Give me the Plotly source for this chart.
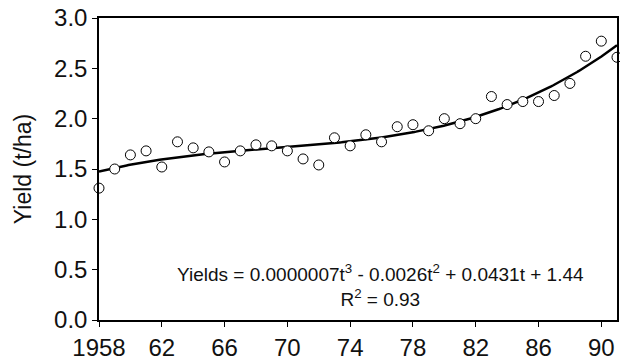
import numpy as np
import plotly.graph_objects as go

# Annual yields, 1958-1991 (t/ha)
years = list(range(1958, 1992))
yields = [1.31, 1.50, 1.64, 1.68, 1.52, 1.77, 1.71, 1.67, 1.57, 1.68,
          1.74, 1.73, 1.68, 1.60, 1.54, 1.81, 1.73, 1.84, 1.77, 1.92,
          1.94, 1.88, 2.00, 1.95, 2.00, 2.22, 2.14, 2.17, 2.17, 2.23,
          2.35, 2.62, 2.77, 2.61]

x_tick_vals = [1958, 1962, 1966, 1970, 1974, 1978, 1982, 1986, 1990]
x_tick_text = ["1958", "62", "66", "70", "74", "78", "82", "86", "90"]
y_tick_vals = [0.0, 0.5, 1.0, 1.5, 2.0, 2.5, 3.0]

# Cubic trend fitted to the yields, t = years since 1957
t = np.array(years) - 1957
coef = np.polyfit(t, np.array(yields), 3)
t_fine = np.linspace(t.min(), t.max(), 300)
trend = np.polyval(coef, t_fine)

FONT = "Liberation Sans, Arial, Helvetica, sans-serif"

fig = go.Figure()
fig.add_trace(go.Scatter(
    x=t_fine + 1957, y=trend, mode="lines",
    line=dict(color="black", width=2.5), hoverinfo="skip", showlegend=False,
))
fig.add_trace(go.Scatter(
    x=years, y=yields, mode="markers", cliponaxis=False,
    marker=dict(symbol="circle", size=10, color="white",
                line=dict(color="black", width=1)),
    showlegend=False,
))

# Trend equation and goodness of fit
fig.add_annotation(
    xref="paper", yref="paper", x=0.543, y=0.113,
    text="Yields = 0.0000007t<sup>3</sup> - 0.0026t<sup>2</sup> + 0.0431t + 1.44"
         "<br>R<sup>2</sup> = 0.93",
    showarrow=False, align="center", xanchor="center", yanchor="middle",
    font=dict(family=FONT, size=19, color="#111"),
)

fig.update_layout(
    width=620, height=362,
    margin=dict(l=99, r=1, t=18, b=40),
    paper_bgcolor="white", plot_bgcolor="white",
    font=dict(family=FONT, color="black"),
    xaxis=dict(
        range=[1958, 1991], tickvals=x_tick_vals, ticktext=x_tick_text,
        showgrid=False, zeroline=False, showline=True, linecolor="black",
        linewidth=1.5, mirror=True, ticks="outside", ticklen=5, tickwidth=1,
        tickcolor="black", tickfont=dict(size=24, family=FONT, color="#111"),
    ),
    yaxis=dict(
        range=[0, 3.0], tickvals=y_tick_vals, tickformat=".1f",
        showgrid=False, zeroline=False, showline=True, linecolor="black",
        linewidth=1.5, mirror=True, ticks="outside", ticklen=5, tickwidth=1,
        tickcolor="black", tickfont=dict(size=24, family=FONT, color="#111"),
        title=dict(text="Yield (t/ha)", font=dict(size=23, family=FONT, color="#111"),
                   standoff=16),
    ),
)

fig.write_html("out.html")
